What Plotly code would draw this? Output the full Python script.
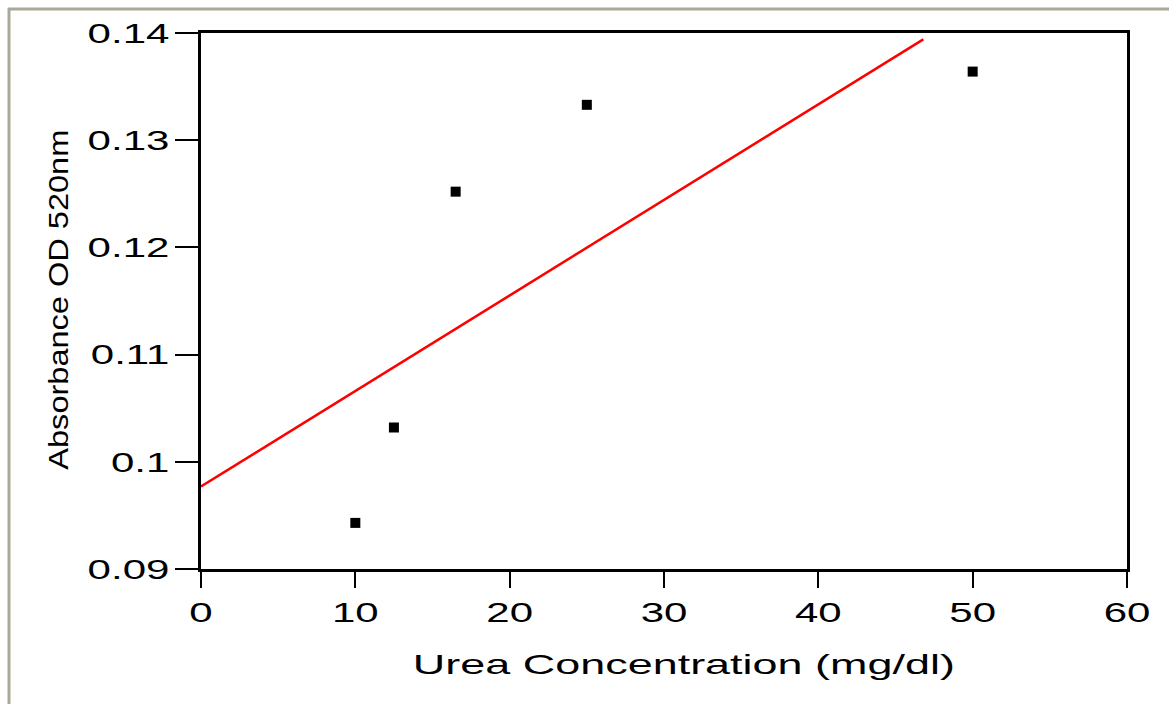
import plotly.graph_objects as go

# Data
urea_conc = [10, 12.5, 16.5, 25, 50]
absorbance = [0.0943, 0.1032, 0.1252, 0.1333, 0.1364]
fit_x = [0, 46.8]
fit_y = [0.0977, 0.1394]
x_tick_vals = [0, 10, 20, 30, 40, 50, 60]
x_tick_text = ["0", "10", "20", "30", "40", "50", "60"]
y_tick_vals = [0.09, 0.10, 0.11, 0.12, 0.13, 0.14]
y_tick_text = ["0.09", "0.1", "0.11", "0.12", "0.13", "0.14"]
x_title = "Urea Concentration (mg/dl)"
y_title = "Absorbance OD 520nm"

W, H = 1169, 704
L, R, T, B = 201, 1127, 33, 569
pw, ph = R - L, B - T

def px(xp):
    return (xp - L) / pw

def py(yp):
    return (B - yp) / ph

FONT = "Liberation Sans, Arial, sans-serif"

fig = go.Figure()
fig.add_trace(go.Scatter(x=fit_x, y=fit_y, mode="lines",
                         line=dict(color="#ff0000", width=2.5),
                         showlegend=False, hoverinfo="skip"))
fig.add_trace(go.Scatter(x=urea_conc, y=absorbance, mode="markers",
                         marker=dict(symbol="square", size=10, color="black",
                                     line=dict(width=0)),
                         showlegend=False))

axis_common = dict(showline=True, linecolor="black", linewidth=3, mirror=True,
                   showgrid=False, zeroline=False, ticks="outside",
                   tickcolor="black", tickwidth=2,
                   tickfont=dict(family=FONT, size=28, color="black"))

fig.update_xaxes(range=[0, 60], tickvals=x_tick_vals, ticktext=x_tick_text,
                 ticklen=16, **axis_common)
fig.update_yaxes(range=[0.09, 0.14], tickvals=y_tick_vals, ticktext=y_tick_text,
                 ticklen=23, **axis_common)

fig.add_annotation(text=x_title, xref="paper", yref="paper",
                   x=px(684), y=py(664), showarrow=False,
                   xanchor="center", yanchor="middle",
                   font=dict(family=FONT, size=28, color="black"))
fig.add_annotation(text=y_title, xref="paper", yref="paper",
                   x=px(58), y=py(300), showarrow=False, textangle=-90,
                   xanchor="center", yanchor="middle",
                   font=dict(family=FONT, size=28, color="black"))

# grey frame lines (top and left)
fig.add_shape(type="line", xref="paper", yref="paper",
              x0=px(8), x1=px(1175), y0=py(9), y1=py(9),
              line=dict(color="#aca899", width=3))
fig.add_shape(type="line", xref="paper", yref="paper",
              x0=px(9), x1=px(9), y0=py(8), y1=py(710),
              line=dict(color="#aca899", width=3))

fig.update_layout(width=W, height=H, autosize=False,
                  margin=dict(l=L, r=W - R, t=T, b=H - B, pad=0),
                  paper_bgcolor="white", plot_bgcolor="white")

post = """
var gd = document.getElementById('{plot_id}');
function stretchAll(){
  gd.querySelectorAll('.xtick text, .ytick text').forEach(function(t){
    if (t.getAttribute('data-stretched')) return;
    var l = t.getComputedTextLength();
    t.setAttribute('textLength', (l*1.5).toFixed(1));
    t.setAttribute('lengthAdjust', 'spacingAndGlyphs');
    t.setAttribute('data-stretched', '1');
  });
  var ann = gd.querySelectorAll('.annotation-text');
  ann.forEach(function(t){
    var s = t.textContent;
    var target = null;
    if (s.indexOf('Urea') === 0) target = 542;
    if (s.indexOf('Absorbance') === 0) target = 340;
    if (target) {
      t.setAttribute('textLength', target);
      t.setAttribute('lengthAdjust', 'spacingAndGlyphs');
    }
  });
}
stretchAll();
"""

fig.write_html("out.html", post_script=post, config={"displayModeBar": False})
